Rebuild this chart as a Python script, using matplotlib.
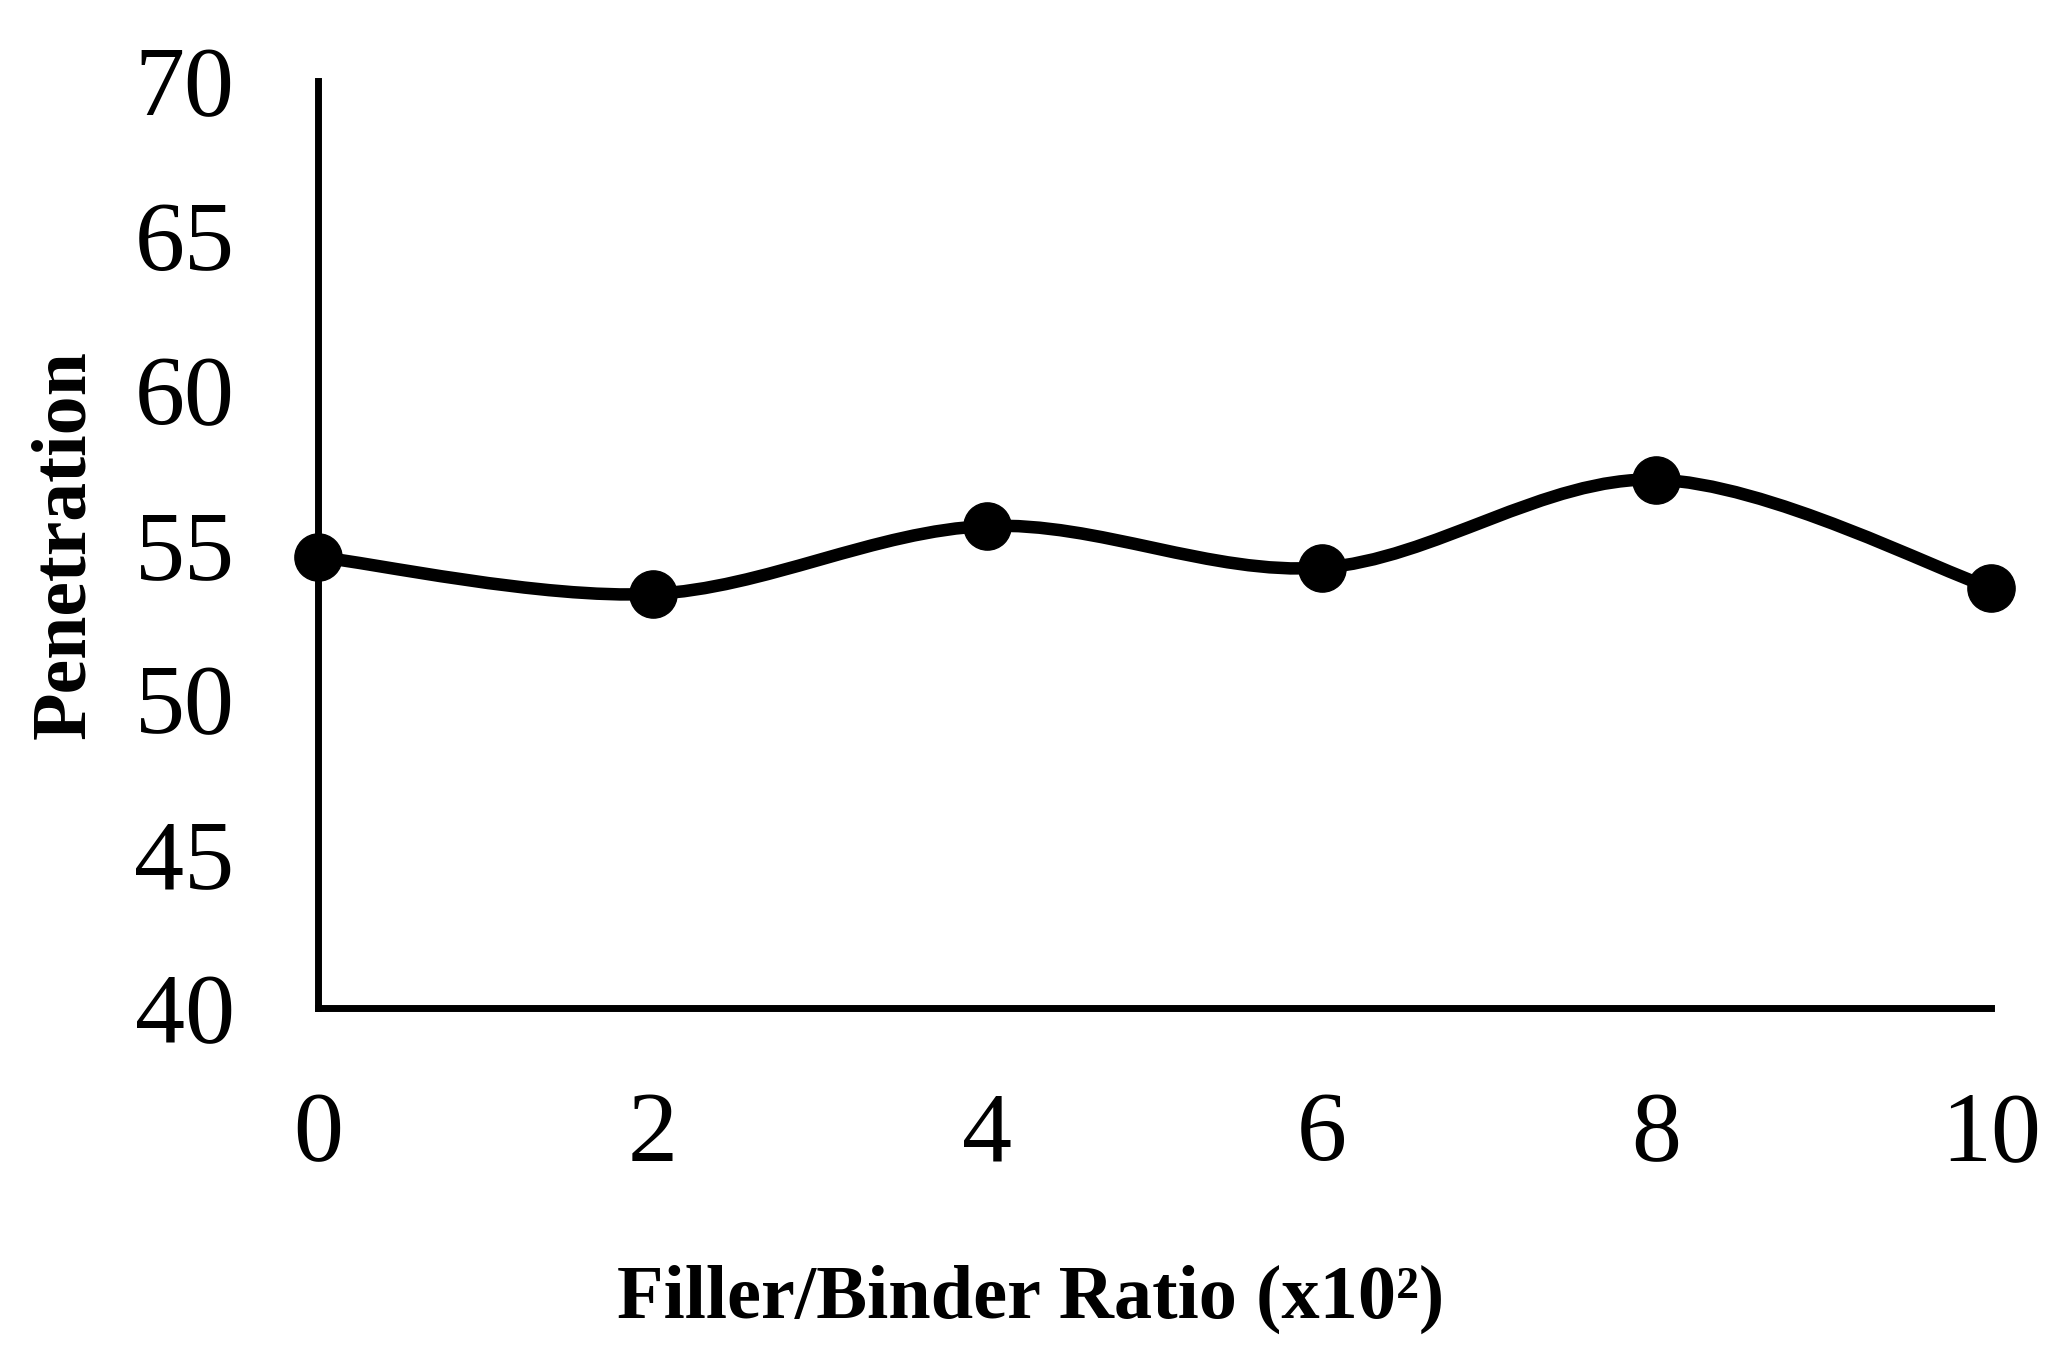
import matplotlib
matplotlib.use("Agg")
import matplotlib.pyplot as plt
from matplotlib.path import Path
from matplotlib.patches import PathPatch
import numpy as np

plt.rcParams.update({
    "font.family": "serif",
    "font.serif": ["Liberation Serif", "DejaVu Serif"],
})

ratio = [0, 2, 4, 6, 8, 10]
penetration = [54.6, 53.4, 55.6, 54.25, 57.1, 53.6]
x_ticks = [0, 2, 4, 6, 8, 10]
y_ticks = [40, 45, 50, 55, 60, 65, 70]


def smooth_path(xs, ys):
    # Excel-style smoothed line: cubic Bezier segments through each point
    pts = np.column_stack([xs, ys]).astype(float)
    n = len(pts)
    verts = [pts[0]]
    codes = [Path.MOVETO]
    for i in range(n - 1):
        p0 = pts[i - 1] if i > 0 else pts[i]
        p1, p2 = pts[i], pts[i + 1]
        p3 = pts[i + 2] if i + 2 < n else pts[i + 1]
        c1 = p1 + (p2 - p0) / 6.0
        c2 = p2 - (p3 - p1) / 6.0
        verts += [c1, c2, p2]
        codes += [Path.CURVE4] * 3
    return Path(verts, codes)


fig = plt.figure(figsize=(20.71, 13.62), dpi=100)
ax = fig.add_axes([0.1535, 0.2599, 0.8079, 0.6806])

ax.add_patch(PathPatch(smooth_path(ratio, penetration), facecolor="none",
                       edgecolor="black", lw=9, clip_on=False,
                       capstyle="round", joinstyle="round"))
ax.plot(ratio, penetration, ls="none", marker="o", ms=34, color="black",
        clip_on=False, zorder=3)

ax.set_xlim(0, 10)
ax.set_ylim(40, 70)
ax.set_xticks(x_ticks)
ax.set_yticks(y_ticks)
ax.tick_params(length=0, labelsize=72, pad=60)

for s in ("top", "right"):
    ax.spines[s].set_visible(False)
for s in ("left", "bottom"):
    ax.spines[s].set_linewidth(5)

ax.set_xlabel("Filler/Binder Ratio (x10²)", fontsize=55,
              fontweight="bold", va="center")
ax.xaxis.set_label_coords(0.426, -0.314)
ax.set_ylabel("Penetration", fontsize=56, fontweight="bold", labelpad=24)

fig.savefig("out.png", dpi=100)
